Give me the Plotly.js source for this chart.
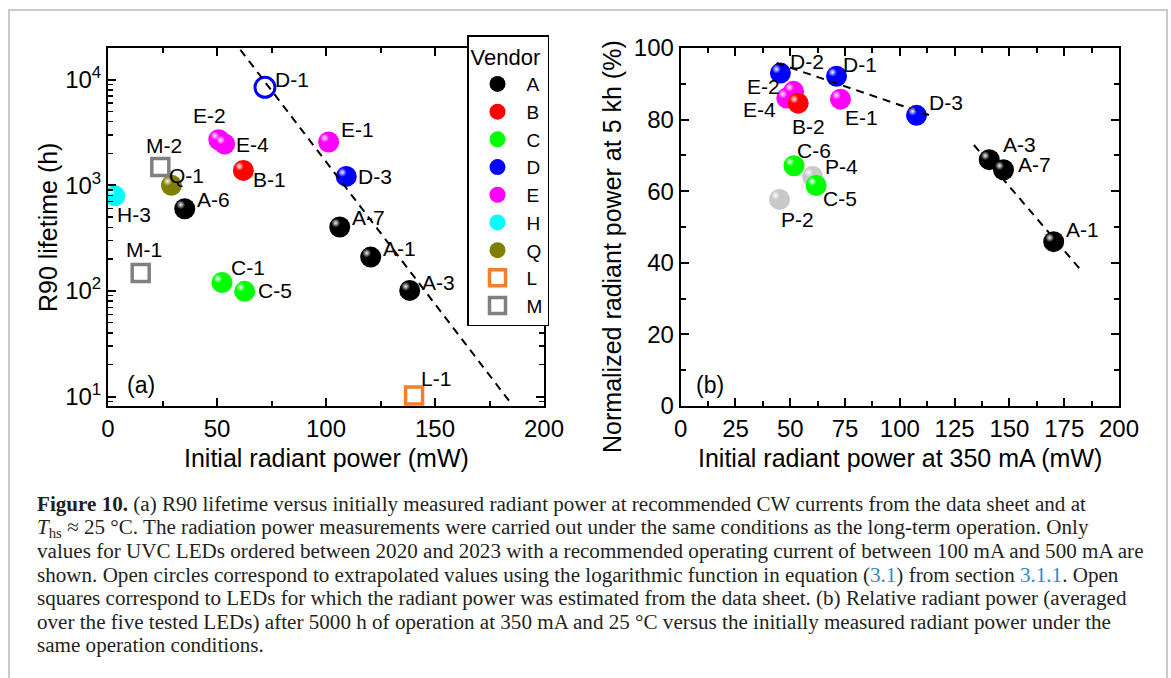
<!DOCTYPE html>
<html><head><meta charset="utf-8">
<script src="https://cdn.plot.ly/plotly-3.0.1.min.js"></script>
<style>
html,body{margin:0;padding:0;background:#fff;}
#wrap{position:relative;width:1171px;height:678px;overflow:hidden;}
#chart{position:absolute;left:0;top:0;width:1171px;height:678px;}
#frame{position:absolute;left:8px;top:9px;width:1156px;height:720px;border:2px solid #c9c9c9;pointer-events:none;}
</style></head><body>
<div id="wrap"><div id="chart"></div><div id="frame"></div></div>
<script>
// ---------------- data ----------------
const vendorOrder = ['A','B','C','D','E','H','Q','L','M'];
const vendorColors = {A:'#000000',B:'#ff0000',C:'#00ff00',D:'#0000ff',E:'#ff00ff',H:'#00ffff',Q:'#808000',L:'#f47f2b',M:'#808080',P:'#c8c8c8'};

// panel (a): R90 lifetime vs initial radiant power
const aLabels   = ['D-1','E-2','E-4','E-1','M-2','Q-1','B-1','D-3','H-3','A-6','A-7','A-1','A-3','M-1','C-1','C-5','L-1'];
const aPower    = [72.0, 50.8, 53.5, 101.2, 24.0, 29.1, 62.1, 109.3, 3.1, 35.2, 106.3, 120.5, 138.4, 15.0, 52.3, 62.7, 140.4];
const aLifetime = [8460, 2700, 2460, 2570, 1490, 1000, 1384, 1214, 795, 600, 403, 209, 101, 148, 120, 99, 10.2];
const aExtrapolated = ['D-1'];          // open circle
const aEstimatedVendors = ['L','M'];    // open squares

// panel (b): normalized radiant power at 5 kh vs initial power at 350 mA
const bLabels = ['D-2','D-1','E-2','E-4','B-2','E-1','D-3','C-6','P-4','C-5','P-2','A-3','A-7','A-1'];
const bPower  = [45.5, 71.1, 51.5, 48.4, 53.6, 72.9, 107.6, 51.7, 60.2, 61.8, 45.1, 140.8, 147.3, 170.2];
const bNorm   = [93.0, 92.1, 87.9, 86.0, 84.6, 85.7, 81.2, 67.1, 64.1, 61.6, 57.7, 68.8, 66.0, 45.9];
const bDrawOrder = ['P','E','B','C','D','A'];

// dashed guide lines
const fitA_x = [60.7, 184.7],  fitA_y = [19200, 8.7];
const fitB1_x = [43.8, 113.3], fitB1_y = [95.8, 81.3];
const fitB2_x = [133.8, 182.0], fitB2_y = [72.9, 38.4];

// tick labels
const aYTickVals = [10, 100, 1000, 10000];
const aYTickText = ['10<sup>1</sup>','10<sup>2</sup>','10<sup>3</sup>','10<sup>4</sup>'];

// ---------------- style (label offsets in px: dx right, dy down) ----------------
const aOffsets = {'D-1':[27,-8],'E-2':[-9,-24],'E-4':[28,0],'E-1':[29,-13],'M-2':[4,-22],'Q-1':[15,-10],'B-1':[26,9],'D-3':[29,0],'H-3':[19,19],'A-6':[29,-9],'A-7':[29,-9],'A-1':[29,-9],'A-3':[29,-8],'M-1':[3,-23],'C-1':[26,-15],'C-5':[30,-1],'L-1':[22,-17]};
const bOffsets = {'D-2':[27,-12],'D-1':[23,-12],'E-2':[-30,-5],'E-4':[-27,11],'B-2':[10,23],'E-1':[21,18],'D-3':[29,-13],'C-6':[20,-15],'P-4':[29,-10],'C-5':[24,13],'P-2':[18,20],'A-3':[30,-15],'A-7':[31,-5],'A-1':[29,-12]};

const FONT = 'Liberation Sans, Arial, Helvetica, sans-serif';
const SERIF = 'Liberation Serif, Times New Roman, serif';
const BALL = 21;
const vendorOf = l => l.split('-')[0];

const traces = [];
const hlA = {x:[], y:[]}, hlB = {x:[], y:[]};

// panel (a)
vendorOrder.forEach(v => {
  const idx = aLabels.map((l,i)=>i).filter(i => vendorOf(aLabels[i]) === v);
  const isOpen = i => aExtrapolated.includes(aLabels[i]) || aEstimatedVendors.includes(v);
  const filled = idx.filter(i => !isOpen(i));
  const open = idx.filter(i => isOpen(i));
  const sq = aEstimatedVendors.includes(v);
  if (filled.length) {
    traces.push({type:'scatter', mode:'markers', xaxis:'x', yaxis:'y', name:v, showlegend:true,
      x: filled.map(i=>aPower[i]), y: filled.map(i=>aLifetime[i]), text: filled.map(i=>aLabels[i]),
      marker:{symbol:'circle', size:BALL, color:vendorColors[v], line:{width:0}}});
    filled.forEach(i => { hlA.x.push(aPower[i]); hlA.y.push(aLifetime[i]); });
  }
  if (open.length) {
    traces.push({type:'scatter', mode:'markers', xaxis:'x', yaxis:'y', name:v, showlegend: !filled.length,
      x: open.map(i=>aPower[i]), y: open.map(i=>aLifetime[i]), text: open.map(i=>aLabels[i]),
      marker:{symbol: sq ? 'square-open' : 'circle-open', size: sq ? 17 : 20, color:vendorColors[v], line:{width: sq ? 3.5 : 3}}});
  }
});
// panel (b)
bDrawOrder.forEach(v => {
  const idx = bLabels.map((l,i)=>i).filter(i => vendorOf(bLabels[i]) === v);
  if (!idx.length) return;
  traces.push({type:'scatter', mode:'markers', xaxis:'x2', yaxis:'y2', name:v, showlegend:false,
    x: idx.map(i=>bPower[i]), y: idx.map(i=>bNorm[i]), text: idx.map(i=>bLabels[i]),
    marker:{symbol:'circle', size:BALL, color:vendorColors[v], line:{width:0}}});
  idx.forEach(i => { hlB.x.push(bPower[i]); hlB.y.push(bNorm[i]); });
});
// specular highlights (same data, drawn on slightly shifted overlay axes)
const hlMarker = {symbol:'circle', size:9, color:'rgba(255,255,255,0)', gradient:{type:'radial', color:'rgba(255,255,255,0.95)'}, line:{width:0}};
traces.push({type:'scatter', mode:'markers', xaxis:'x3', yaxis:'y3', x:hlA.x, y:hlA.y, marker:hlMarker, showlegend:false, hoverinfo:'skip'});
traces.push({type:'scatter', mode:'markers', xaxis:'x4', yaxis:'y4', x:hlB.x, y:hlB.y, marker:hlMarker, showlegend:false, hoverinfo:'skip'});
// dashed lines
const dashLine = {color:'#000', width:2, dash:'8px,6px'};
traces.push({type:'scatter', mode:'lines', xaxis:'x', yaxis:'y', x:fitA_x, y:fitA_y, line:dashLine, showlegend:false, hoverinfo:'skip'});
traces.push({type:'scatter', mode:'lines', xaxis:'x2', yaxis:'y2', x:fitB1_x, y:fitB1_y, line:dashLine, showlegend:false, hoverinfo:'skip'});
traces.push({type:'scatter', mode:'lines', xaxis:'x2', yaxis:'y2', x:fitB2_x, y:fitB2_y, line:dashLine, showlegend:false, hoverinfo:'skip'});

// ---------------- annotations ----------------
const ann = [];
const labelFont = {family:FONT, size:21, color:'#000'};
aLabels.forEach((l,i) => {
  const o = aOffsets[l] || [25,0];
  ann.push({xref:'x', yref:'y', x:aPower[i], y:Math.log10(aLifetime[i]), text:l, showarrow:false,
    xanchor:'center', yanchor:'middle', xshift:o[0], yshift:-o[1], font:labelFont});
});
bLabels.forEach((l,i) => {
  const o = bOffsets[l] || [25,0];
  ann.push({xref:'x2', yref:'y2', x:bPower[i], y:bNorm[i], text:l, showarrow:false,
    xanchor:'center', yanchor:'middle', xshift:o[0], yshift:-o[1], font:labelFont});
});
const titleFont = {family:FONT, size:25, color:'#000'};
ann.push({xref:'paper', yref:'paper', x:0.2166, y:-0.1453, text:'Initial radiant power (mW)', showarrow:false, font:titleFont, xanchor:'center', yanchor:'middle'});
ann.push({xref:'paper', yref:'paper', x:-0.0593, y:0.5, text:'R90 lifetime (h)', textangle:-90, showarrow:false, font:titleFont, xanchor:'center', yanchor:'middle'});
ann.push({xref:'paper', yref:'paper', x:0.783, y:-0.1453, text:'Initial radiant power at 350 mA (mW)', showarrow:false, font:titleFont, xanchor:'center', yanchor:'middle'});
ann.push({xref:'paper', yref:'paper', x:0.4985, y:0.447, text:'Normalized radiant power at 5 kh (%)', textangle:-90, showarrow:false, font:titleFont, xanchor:'center', yanchor:'middle'});
ann.push({xref:'paper', yref:'paper', x:0.0324, y:0.0587, text:'(a)', showarrow:false, font:{family:FONT,size:23,color:'#000'}, xanchor:'center', yanchor:'middle'});
ann.push({xref:'paper', yref:'paper', x:0.5958, y:0.0587, text:'(b)', showarrow:false, font:{family:FONT,size:23,color:'#000'}, xanchor:'center', yanchor:'middle'});

const LINK = '#2b8ccb';
const captionLines = [
  '<b>Figure 10.</b> (a) R90 lifetime versus initially measured radiant power at recommended CW currents from the data sheet and at',
  '<i>T</i><sub>hs</sub> ≈ 25 °C. The radiation power measurements were carried out under the same conditions as the long-term operation. Only',
  'values for UVC LEDs ordered between 2020 and 2023 with a recommended operating current of between 100 mA and 500 mA are',
  'shown. Open circles correspond to extrapolated values using the logarithmic function in equation (<span style="color:'+LINK+'">3.1</span>) from section <span style="color:'+LINK+'">3.1.1</span>. Open',
  'squares correspond to LEDs for which the radiant power was estimated from the data sheet. (b) Relative radiant power (averaged',
  'over the five tested LEDs) after 5000 h of operation at 350 mA and 25 °C versus the initially measured radiant power under the',
  'same operation conditions.'
];
captionLines.forEach((t,k) => {
  const yc = 504 + 23.5*k;
  ann.push({xref:'paper', yref:'paper', x:(35-108)/1011, y:(406-yc)/358, text:t, showarrow:false,
    xanchor:'left', yanchor:'middle', align:'left', font:{family:SERIF, size:21.1, color:'#231f20'}});
});

// ---------------- layout ----------------
const axisCommon = {showline:true, linecolor:'#000', linewidth:2, mirror:'ticks', ticks:'inside', ticklen:8, tickwidth:2,
  tickcolor:'#000', showgrid:false, zeroline:false, tickfont:{family:FONT, size:24, color:'#000'}, fixedrange:true};
const minorCommon = {ticks:'inside', ticklen:5, tickwidth:2, tickcolor:'#000', showgrid:false};

const layout = {
  width:1171, height:678,
  margin:{l:108, r:52, t:48, b:272},
  paper_bgcolor:'#fff', plot_bgcolor:'rgba(0,0,0,0)',
  showlegend:true,
  legend:{x:(467-108)/1011, y:(406-35)/358, xanchor:'left', yanchor:'top', bgcolor:'#fff', bordercolor:'#000', borderwidth:1.5,
    font:{family:FONT, size:19, color:'#000'}, title:{text:'Vendor', font:{family:FONT, size:22, color:'#000'}},
    traceorder:'normal', itemwidth:48, itemsizing:'trace'},
  xaxis: Object.assign({}, axisCommon, {domain:[0, 436/1011], range:[0,200], anchor:'y', tick0:0, dtick:50, minor:Object.assign({dtick:25}, minorCommon)}),
  yaxis: Object.assign({}, axisCommon, {type:'log', range:[0.91, 4.30], anchor:'x', tickmode:'array', tickvals:aYTickVals, ticktext:aYTickText,
    minor:Object.assign({dtick:'D1'}, minorCommon, {ticklen:5, tickwidth:1.5})}),
  xaxis2: Object.assign({}, axisCommon, {domain:[(680.7-108)/1011, 1], range:[0,200], anchor:'y2', tick0:0, dtick:25, minor:Object.assign({dtick:12.5}, minorCommon)}),
  yaxis2: Object.assign({}, axisCommon, {range:[0,100], anchor:'x2', tick0:0, dtick:20, minor:Object.assign({dtick:10}, minorCommon)}),
  xaxis3: {overlaying:'x', range:[200*4/436, 200+200*4/436], visible:false, anchor:'y3', fixedrange:true},
  yaxis3: {overlaying:'y', type:'log', range:[0.91-3.39*4/358, 4.30-3.39*4/358], visible:false, anchor:'x3', fixedrange:true},
  xaxis4: {overlaying:'x2', range:[200*4/438, 200+200*4/438], visible:false, anchor:'y4', fixedrange:true},
  yaxis4: {overlaying:'y2', range:[-100*4/358, 100-100*4/358], visible:false, anchor:'x4', fixedrange:true},
  annotations: ann
};

Plotly.newPlot('chart', traces, layout, {displayModeBar:false, staticPlot:true});
</script>
</body></html>
